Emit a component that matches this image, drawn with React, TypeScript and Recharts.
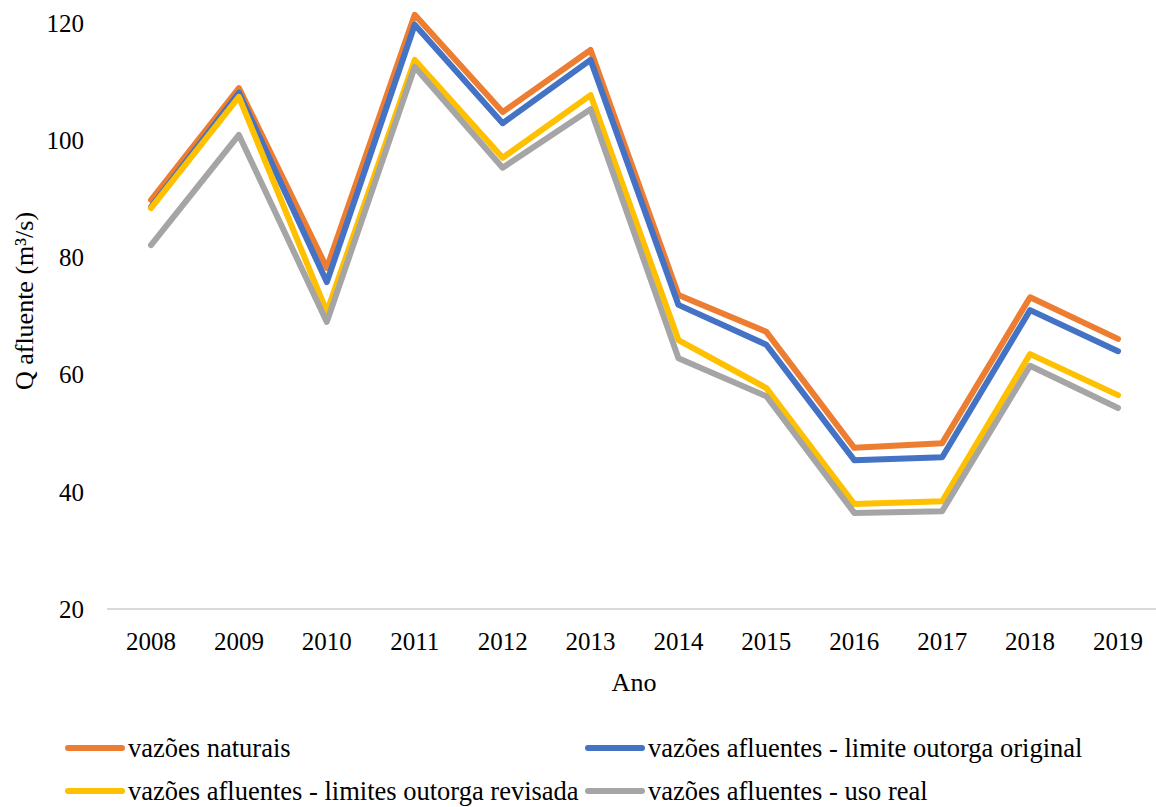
import React from "react";
import { LineChart, Line, XAxis, YAxis } from "recharts";

const years = ["2008", "2009", "2010", "2011", "2012", "2013", "2014", "2015", "2016", "2017", "2018", "2019"];
const naturais = [89.8, 108.9, 78.2, 121.4, 104.8, 115.4, 73.6, 67.3, 47.5, 48.3, 73.2, 66.1];
const outorgaOriginal = [88.6, 108.1, 75.8, 119.7, 102.9, 113.7, 71.9, 65.1, 45.4, 45.9, 71.0, 64.0];
const outorgaRevisada = [88.4, 107.4, 70.7, 113.7, 97.0, 107.7, 65.9, 57.7, 37.9, 38.4, 63.5, 56.5];
const usoReal = [82.1, 100.9, 69.0, 112.5, 95.3, 105.3, 62.8, 56.3, 36.4, 36.7, 61.5, 54.3];
const yTicks = [20, 40, 60, 80, 100, 120];

const series = [
  { key: "naturais", name: "vazões naturais", color: "#ED7D31" },
  { key: "original", name: "vazões afluentes - limite outorga original", color: "#4472C4" },
  { key: "revisada", name: "vazões afluentes - limites outorga revisada", color: "#FFC000" },
  { key: "real", name: "vazões afluentes - uso real", color: "#A5A5A5" },
];

const data = years.map((ano, i) => ({
  ano,
  naturais: naturais[i],
  original: outorgaOriginal[i],
  revisada: outorgaRevisada[i],
  real: usoReal[i],
}));

const FONT = "'Times New Roman', 'Liberation Serif', serif";

function LegendItem({ name, color }: { name: string; color: string }) {
  return (
    <div style={{ display: "flex", alignItems: "center", height: 43, lineHeight: "30px" }}>
      <svg width={61} height={10} style={{ marginRight: 2 }}>
        <line x1={3} y1={5} x2={57} y2={5} stroke={color} strokeWidth={6} strokeLinecap="round" />
      </svg>
      <span style={{ fontSize: 26.5, color: "#000", whiteSpace: "nowrap", fontFamily: FONT }}>{name}</span>
    </div>
  );
}

export default function App() {
  return (
    <div
      style={{
        position: "absolute",
        left: 0,
        top: 0,
        width: 1156,
        height: 807,
        overflow: "hidden",
        background: "#fff",
        fontFamily: FONT,
      }}
    >
      <LineChart
        width={1162}
        height={700}
        data={data}
        margin={{ top: 11.3, right: 0, bottom: 0, left: 0 }}
        style={{ fontFamily: FONT }}
      >
        <XAxis
          dataKey="ano"
          height={91}
          padding={{ left: 44, right: 44 }}
          tickLine={false}
          tickSize={0}
          tickMargin={23}
          axisLine={{ stroke: "#D9D9D9", strokeWidth: 2 }}
          tick={{ fill: "#000", fontSize: 25, fontFamily: FONT }}
          label={{
            content: () => (
              <text x={634} y={691} textAnchor="middle" fontSize={26} fill="#000" fontFamily={FONT}>
                Ano
              </text>
            ),
          }}
        />
        <YAxis
          width={107}
          domain={[20, 122]}
          ticks={yTicks}
          axisLine={false}
          tickLine={false}
          tickSize={0}
          tickMargin={23}
          tick={{ fill: "#000", fontSize: 25, fontFamily: FONT }}
          label={{
            content: () => (
              <text
                x={33}
                y={301}
                textAnchor="middle"
                fontSize={26}
                fill="#000"
                fontFamily={FONT}
                transform="rotate(-90 33 301)"
              >
                Q afluente (m³/s)
              </text>
            ),
          }}
        />
        {series.map((s) => (
          <Line
            key={s.key}
            type="linear"
            dataKey={s.key}
            name={s.name}
            stroke={s.color}
            strokeWidth={6}
            strokeLinecap="round"
            strokeLinejoin="round"
            dot={false}
            activeDot={false}
            isAnimationActive={false}
          />
        ))}
      </LineChart>
      <div
        style={{
          position: "absolute",
          left: 65,
          top: 726,
          display: "grid",
          gridTemplateColumns: "520px auto",
        }}
      >
        {series.map((s) => (
          <LegendItem key={s.key} name={s.name} color={s.color} />
        ))}
      </div>
    </div>
  );
}
